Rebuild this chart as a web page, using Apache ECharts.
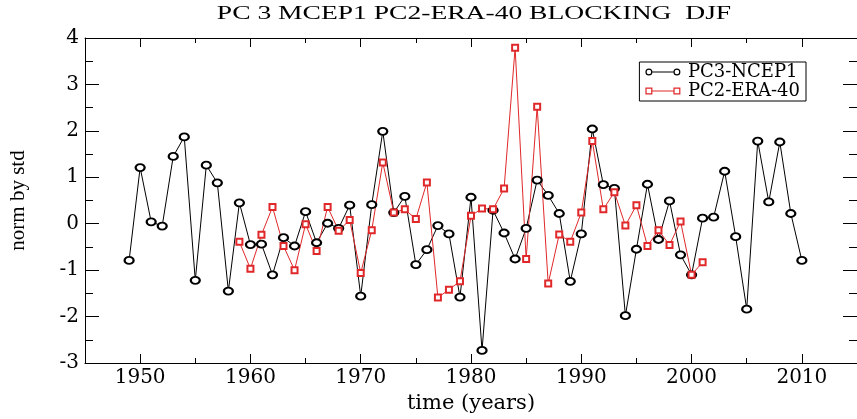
<!DOCTYPE html>
<html>
<head>
<meta charset="utf-8">
<script src="https://cdn.jsdelivr.net/npm/echarts@6/dist/echarts.min.js"></script>
<style>
  html, body { margin: 0; padding: 0; background: #fff; }
  #chart { width: 857px; height: 419px; }
</style>
</head>
<body>
<div id="chart"></div>
<script>
// PC3-NCEP1, one value per winter, 1949..2010
const ncepStart = 1949;
const ncepValues = [
  -0.79, 1.21, 0.04, -0.05, 1.45, 1.87, -1.22, 1.26, 0.88, -1.45,
  0.45, -0.45, -0.44, -1.10, -0.30, -0.48, 0.26, -0.41, 0.01, -0.10,
  0.40, -1.56, 0.41, 1.99, 0.24, 0.59, -0.88, -0.56, -0.04, -0.22,
  -1.58, 0.57, -2.73, 0.29, -0.20, -0.76, -0.10, 0.94, 0.61, 0.22,
  -1.24, -0.22, 2.04, 0.84, 0.76, -1.98, -0.55, 0.85, -0.34, 0.49,
  -0.67, -1.10, 0.12, 0.14, 1.13, -0.28, -1.84, 1.78, 0.47, 1.76,
  0.22, -0.79
];
// PC2-ERA-40, 1959..2001
const eraStart = 1959;
const eraValues = [
  -0.39, -0.97, -0.24, 0.36, -0.48, -1.00, -0.01, -0.59, 0.36, -0.15,
  0.08, -1.06, -0.14, 1.32, 0.24, 0.31, 0.10, 0.89, -1.59, -1.42,
  -1.24, 0.17, 0.33, 0.31, 0.76, 3.79, -0.76, 2.52, -1.29, -0.23,
  -0.39, 0.24, 1.78, 0.31, 0.68, -0.04, 0.40, -0.48, -0.14, -0.46,
  0.05, -1.10, -0.83
];
const xLabels = [1950, 1960, 1970, 1980, 1990, 2000, 2010];

const toPairs = (start, vals) => vals.map((v, i) => [start + i, v]);

const serif = 'Liberation Serif';
const wide = 'DejaVu Serif';   // the original's text is stretched sideways
// legend icons: line with a marker at each end
const circleIcon = 'path://M0,5A4,4 0 1,1 8,5A4,4 0 1,1 0,5Z M1.4,5A2.6,2.6 0 1,0 6.6,5A2.6,2.6 0 1,0 1.4,5Z ' +
  'M8,4.5L32,4.5L32,5.5L8,5.5Z ' +
  'M32,5A4,4 0 1,1 40,5A4,4 0 1,1 32,5Z M33.4,5A2.6,2.6 0 1,0 38.6,5A2.6,2.6 0 1,0 33.4,5Z';
const rectIcon = 'path://M0,1L8,1L8,9L0,9Z M1.4,2.4L1.4,7.6L6.6,7.6L6.6,2.4Z ' +
  'M8,4.5L32,4.5L32,5.5L8,5.5Z ' +
  'M32,1L40,1L40,9L32,9Z M33.4,2.4L33.4,7.6L38.6,7.6L38.6,2.4Z';

const black = '#000';
const red = '#e0282a';

const xBase = {
  type: 'value', min: 1945, max: 2015, gridIndex: 0,
  splitLine: { show: false },
  axisLine: { show: true, onZero: false, lineStyle: { color: black, width: 1 } }
};
const noLine = { show: false, onZero: false };
const minorTicks = { show: true, inside: true, length: 5, lineStyle: { color: black } };
const majorTicks = { show: true, inside: true, length: 9, customValues: xLabels, lineStyle: { color: black } };

const chart = echarts.init(document.getElementById('chart'));
const option = {
  animation: false,
  backgroundColor: '#fff',
  graphic: [
    {
      type: 'text',
      x: 474,
      y: 5,
      scaleX: 1.45,
      style: {
        text: 'PC 3 MCEP1 PC2-ERA-40 BLOCKING  DJF',
        font: '19px "Liberation Serif"',
        fill: black,
        align: 'center',
        verticalAlign: 'top'
      }
    }
  ],
  legend: {
    orient: 'vertical',
    right: 51,
    top: 62,
    padding: [1, 6, 1, 6],
    itemGap: 1,
    itemWidth: 40,
    itemHeight: 7,
    borderColor: black,
    borderWidth: 1,
    backgroundColor: '#fff',
    textStyle: { fontFamily: wide, fontSize: 18, color: black, lineHeight: 14 },
    data: [
      { name: 'PC3-NCEP1', icon: circleIcon, itemStyle: { color: black, borderWidth: 0 } },
      { name: 'PC2-ERA-40', icon: rectIcon, itemStyle: { color: red, borderWidth: 0 } }
    ]
  },
  grid: { left: 84, right: -4, top: 38, bottom: 46 },
  xAxis: [
    Object.assign({}, xBase, {
      position: 'bottom',
      interval: 5,
      axisTick: minorTicks,
      axisLabel: {
        customValues: xLabels,
        formatter: v => String(v),
        margin: 5,
        fontFamily: wide, fontSize: 20, color: black
      },
      name: 'time (years)',
      nameLocation: 'middle',
      nameGap: 30,
      nameTextStyle: { fontFamily: wide, fontSize: 21, color: black }
    }),
    Object.assign({}, xBase, {
      position: 'bottom',
      axisLine: noLine,
      axisTick: majorTicks,
      axisLabel: { show: false }
    }),
    Object.assign({}, xBase, {
      position: 'top',
      interval: 5,
      axisTick: minorTicks,
      axisLabel: { show: false }
    }),
    Object.assign({}, xBase, {
      position: 'top',
      axisLine: noLine,
      axisTick: majorTicks,
      axisLabel: { show: false }
    })
  ],
  yAxis: [
    {
      type: 'value', min: -3, max: 4, interval: 1, position: 'left',
      splitLine: { show: false },
      axisLine: { show: true, onZero: false, lineStyle: { color: black } },
      axisTick: { inside: true, length: 14, lineStyle: { color: black } },
      minorTick: { show: true, splitNumber: 2, length: 8, lineStyle: { color: black } },
      axisLabel: { fontFamily: wide, fontSize: 20, color: black, margin: 6 },
      name: 'norm by std',
      nameLocation: 'middle',
      nameGap: 56,
      nameTextStyle: { fontFamily: serif, fontSize: 21, color: black }
    },
    {
      type: 'value', min: -3, max: 4, interval: 1, position: 'right',
      splitLine: { show: false },
      axisLine: { show: true, onZero: false, lineStyle: { color: black } },
      axisTick: { inside: true, length: 14, lineStyle: { color: black } },
      minorTick: { show: true, splitNumber: 2, length: 8, lineStyle: { color: black } },
      axisLabel: { show: false }
    }
  ],
  series: [
    {
      name: 'PC3-NCEP1',
      type: 'line',
      data: toPairs(ncepStart, ncepValues),
      symbol: 'emptyCircle',
      symbolSize: [9, 7],
      color: black,
      lineStyle: { color: black, width: 1 },
      itemStyle: { color: black, borderWidth: 0.8 }
    },
    {
      name: 'PC2-ERA-40',
      type: 'line',
      data: toPairs(eraStart, eraValues),
      symbol: 'emptyRect',
      symbolSize: 6,
      color: red,
      lineStyle: { color: red, width: 1 },
      itemStyle: { color: red, borderWidth: 0.8 }
    }
  ]
};
chart.setOption(option);
</script>
</body>
</html>
